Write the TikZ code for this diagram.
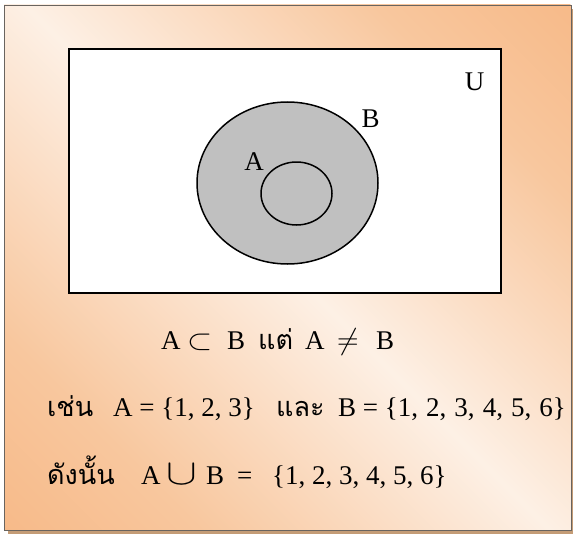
\documentclass[tikz,border=0pt]{standalone}
\usepackage{fontspec}
\usepackage{graphicx}
\setmainfont{Liberation Serif}
\newfontfamily\thaifont[Script=Thai]{Loma}
\definecolor{peach}{RGB}{247,186,137}
\definecolor{peachA}{RGB}{248,199,158}
\definecolor{peachB}{RGB}{251,222,198}
\definecolor{cream}{RGB}{253,240,229}
\definecolor{shadowc}{RGB}{196,156,118}
\definecolor{framec}{RGB}{105,100,95}
\definecolor{setgray}{RGB}{192,192,192}
\pgfdeclarehorizontalshading{diagpeach}{100bp}{color(0bp)=(peach); color(25bp)=(peach); color(34bp)=(peachA); color(43bp)=(peachB); color(50bp)=(cream); color(57bp)=(peachB); color(66bp)=(peachA); color(75bp)=(peach); color(100bp)=(peach)}
\tikzset{
  setlbl/.style={font=\fontsize{27}{30}\selectfont, inner sep=0pt},
  txt/.style={font=\fontsize{27}{30}\selectfont, anchor=base west, inner sep=0pt},
  thai/.style={font=\fontsize{27}{30}\selectfont\thaifont, anchor=base west, inner sep=0pt},
  setring/.style={draw=black, line width=1.5pt}
}
\begin{document}
\begin{tikzpicture}[x=1pt,y=-1pt]
\useasboundingbox (0,0) rectangle (573,535);
% shadow
\fill[shadowc] (8,9) rectangle (574,534);
% background frame with diagonal gradient
\begin{scope}
  \clip (4,5) rectangle (571,530);
  \fill[cream] (4,5) rectangle (571,530);
  \begin{scope}[transform canvas={shift={(287.5,267.5)}, rotate=45}]
    \shade[shading=diagpeach] (-386,-390) rectangle (386,390);
  \end{scope}
\end{scope}
\draw[framec, line width=0.9pt] (4,5) rectangle (571,530);
% universe
\draw[fill=white, line width=1.5pt] (69,49) rectangle (501,293);
\node[setlbl] (U) at (474.5,82) {U};
% sets
\draw[setring, fill=setgray] (287.5,183) ellipse [x radius=90.5, y radius=81];
\draw[setring] (296.5,193.5) ellipse [x radius=35.5, y radius=31.5];
\node[setlbl] (Bl) at (370.5,118.5) {B};
\node[setlbl] (Al) at (254,161.5) {A};
% line 1
\node[txt] (l1a) at (161,349) {A};
\node[txt] (l1sub) at (187,349) {\scalebox{1.3}[1.15]{$\subset$}};
\node[txt] (l1b) at (227,349) {B};
\node[thai] (l1t) at (258,349) {แต่};
\node[txt] (l1c) at (305,349) {A};
\node[txt] (l1ne) at (337,349) {\scalebox{1.2}{$\neq$}};
\node[txt] (l1d) at (376,349) {B};
% line 2
\node[thai] (l2t) at (47,416) {เช่น};
\node[txt] (l2a) at (113,416) {A = \{1, 2, 3\}};
\node[thai] (l2u) at (276,416) {และ};
\node[txt] (l2b) at (338,416) {B = \{1,\hspace{1.3pt} 2,\hspace{1.3pt} 3,\hspace{1.3pt} 4,\hspace{1.3pt} 5,\hspace{1.3pt} 6\}};
% line 3
\node[txt] (l3t0) at (47,484) {\thaifont ดังนั้น};
\node[txt] (l3a) at (141,484) {A};
\node[txt] (l3cup) at (166,484) {\scalebox{1.85}[1.45]{$\cup$}};
\node[txt] (l3b) at (206,484) {B};
\node[txt] (l3eq) at (237,484) {=};
\node[txt] (l3s) at (272,484) {\{1, 2, 3, 4, 5, 6\}};
\end{tikzpicture}
\end{document}
